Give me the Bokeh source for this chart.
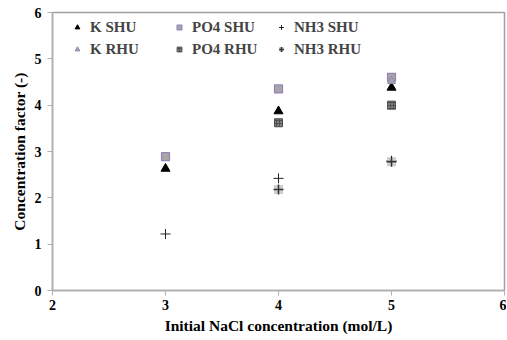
from bokeh.plotting import figure
from bokeh.models import Legend, LegendItem, FixedTicker
from bokeh.embed import file_html
from bokeh.resources import INLINE

x_shu = [3, 4, 5]
x_rhu = [4, 5]
k_shu = [2.63, 3.87, 4.38]
po4_shu = [2.89, 4.35, 4.60]
nh3_shu = [1.22, 2.42, 2.80]
k_rhu = [3.62, 4.52]
po4_rhu = [3.62, 4.00]
nh3_rhu = [2.18, 2.78]

x_ticks = [2, 3, 4, 5, 6]
y_ticks = [0, 1, 2, 3, 4, 5, 6]

FONT = "Liberation Serif"
GRAY = "#a6a6a6"
PURPLE = "#9484b8"

p = figure(width=506, height=336, x_range=(2, 6), y_range=(0, 6),
           output_backend="svg", toolbar_location=None,
           min_border_left=52, min_border_right=2, min_border_top=12, min_border_bottom=46)
p.xgrid.visible = False
p.ygrid.visible = False
p.outline_line_color = "#a0a0a0"
p.outline_line_width = 1.5
p.background_fill_color = "white"
p.border_fill_color = "white"

for ax in (p.xaxis[0], p.yaxis[0]):
    ax.axis_line_color = "#b0b0b0"
    ax.axis_line_width = 1.5
    ax.major_tick_line_color = "#b0b0b0"
    ax.major_tick_in = 0
    ax.major_tick_out = 5
    ax.minor_tick_line_color = None
    ax.major_label_text_font = FONT
    ax.major_label_text_font_style = "bold"
    ax.major_label_text_font_size = "14px"
    ax.major_label_text_color = "black"
    ax.axis_label_text_font = FONT
    ax.axis_label_text_font_style = "bold"
    ax.axis_label_text_font_size = "15.5px"
    ax.axis_label_text_color = "black"

p.xaxis.ticker = FixedTicker(ticks=x_ticks)
p.yaxis.ticker = FixedTicker(ticks=y_ticks)
p.xaxis.axis_label = "Initial NaCl concentration (mol/L)"
p.yaxis.axis_label = "Concentration factor (-)"
p.xaxis.major_label_standoff = 4
p.yaxis.major_label_standoff = 6
p.xaxis.axis_label_standoff = 4
p.yaxis.axis_label_standoff = 4

r1 = p.scatter(x_shu, k_shu, marker="triangle", size=9, fill_color="black", line_color="black")
r2 = p.scatter(x_shu, po4_shu, marker="square", size=8, fill_color=GRAY, line_color=PURPLE, line_width=1.2)
r3 = p.scatter(x_shu, nh3_shu, marker="cross", size=10, line_color="#222222", line_width=1)
r4 = p.scatter(x_rhu, k_rhu, marker="triangle", size=8, fill_color=GRAY, line_color=PURPLE, line_width=1)
r5 = p.scatter(x_rhu, po4_rhu, marker="square", size=8, fill_color="#505050", line_color="#505050",
               hatch_pattern="dot", hatch_color="#c8c8c8", hatch_scale=3, hatch_weight=1)
r6a = p.scatter(x_rhu, nh3_rhu, marker="square", size=9, fill_color="#c0c0c0", fill_alpha=0.8, line_color=None)
r6b = p.scatter(x_rhu, nh3_rhu, marker="cross", size=10, line_color="#333333", line_width=1.5)

items = [
    LegendItem(label="K SHU", renderers=[r1]),
    LegendItem(label="K RHU", renderers=[r4]),
    LegendItem(label="PO4 SHU", renderers=[r2]),
    LegendItem(label="PO4 RHU", renderers=[r5]),
    LegendItem(label="NH3 SHU", renderers=[r3]),
    LegendItem(label="NH3 RHU", renderers=[r6a, r6b]),
]
legend = Legend(items=items, ncols=3, location=(19, 231), padding=2, margin=0,
                spacing=2, glyph_width=12, glyph_height=20, label_height=20,
                label_width=81, label_standoff=7,
                label_text_font=FONT, label_text_font_style="bold",
                label_text_font_size="15px", border_line_color=None,
                background_fill_alpha=0)
p.add_layout(legend, "center")

open("out.html", "w").write(file_html(p, INLINE))
